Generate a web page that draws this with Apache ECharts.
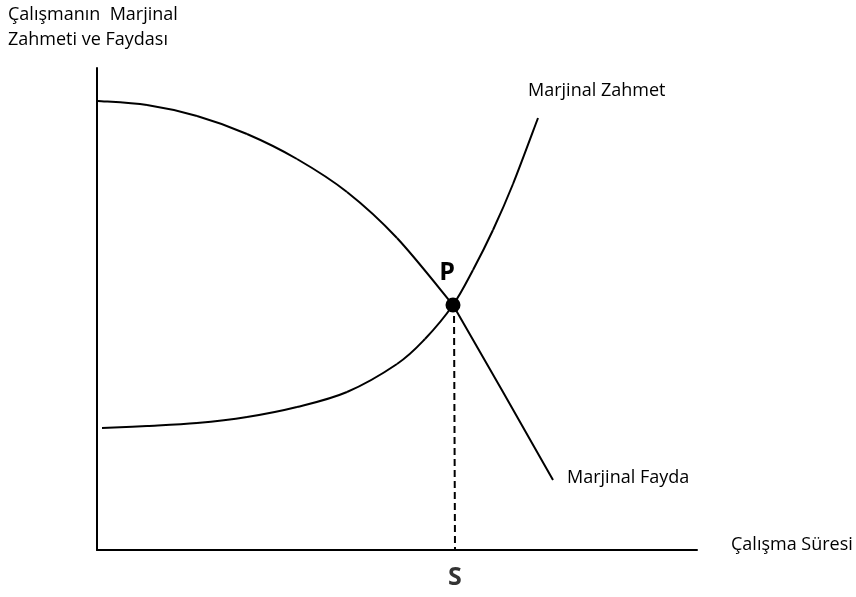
<!DOCTYPE html>
<html>
<head>
<meta charset="utf-8">
<script src="https://cdn.jsdelivr.net/npm/echarts@6/dist/echarts.min.js"></script>
<style>
html,body{margin:0;padding:0;background:#fff;}
#c{width:856px;height:597px;}
</style>
</head>
<body>
<div id="c"></div>
<script>
// Data (horizontal units: work time, vertical units: marginal effort / benefit)
const faydaUpper = [[1,449],[50,445],[100,434],[150,416],[200,391],[250,358],[300,312],[356,245]];
const faydaLower = [[356,245],[406,158],[456,70]];
const zahmetCurve = [[5,122],[50,124],[100,127],[150,133],[200,143],[250,158],[300,186],[328,211],[356,245],[376,280],[396,320],[416,366],[441,432]];
const equilibrium = [356,245];
const equilibriumDrop = [[357,245],[358,0]];
const labels = {
  yTitle: 'Çalışmanın  Marjinal\nZahmeti ve Faydası',
  xTitle: 'Çalışma Süresi',
  zahmet: 'Marjinal Zahmet',
  fayda: 'Marjinal Fayda',
  point: 'P',
  s: 'S'
};

const FONT = '"Open Sans", Lato, sans-serif';
const TXT = 18;

// Smooth curve (Catmull-Rom -> cubic Bezier) through the data points, mapped with api.coord
function smoothCurve(points) {
  return function (params, api) {
    if (params.dataIndex !== 0) return null;
    const p = points.map(d => api.coord(d));
    const path = [];
    for (let i = 0; i < p.length - 1; i++) {
      const p0 = p[Math.max(i - 1, 0)], p1 = p[i], p2 = p[i + 1], p3 = p[Math.min(i + 2, p.length - 1)];
      const c1 = [p1[0] + (p2[0] - p0[0]) / 6, p1[1] + (p2[1] - p0[1]) / 6];
      const c2 = [p2[0] - (p3[0] - p1[0]) / 6, p2[1] - (p3[1] - p1[1]) / 6];
      path.push({type: 'bezierCurve', shape: {x1: p1[0], y1: p1[1], x2: p2[0], y2: p2[1], cpx1: c1[0], cpy1: c1[1], cpx2: c2[0], cpy2: c2[1]},
        style: {stroke: '#000', lineWidth: 2, fill: null}});
    }
    return {type: 'group', children: path};
  };
}

const chart = echarts.init(document.getElementById('c'), null, {renderer:'canvas'});
chart.setOption({
  animation: false,
  backgroundColor: '#fff',
  grid: {left: 97, top: 68, width: 600, height: 482},
  xAxis: {
    type: 'value', min: 0, max: 600,
    axisLine: {show: true, lineStyle: {color: '#000', width: 2}},
    axisTick: {show: false}, axisLabel: {show: false}, splitLine: {show: false}
  },
  yAxis: {
    type: 'value', min: 0, max: 482,
    axisLine: {show: true, lineStyle: {color: '#000', width: 2}},
    axisTick: {show: false}, axisLabel: {show: false}, splitLine: {show: false}
  },
  series: [
    {
      type: 'custom', data: faydaUpper, renderItem: smoothCurve(faydaUpper), silent: true
    },
    {
      type: 'line', data: faydaLower, smooth: false, symbol: 'none',
      lineStyle: {color: '#000', width: 2},
      endLabel: {show: true, formatter: labels.fayda, color: '#000', fontFamily: FONT, fontSize: TXT, offset: [6, -2]}
    },
    {
      type: 'custom', data: zahmetCurve, renderItem: smoothCurve(zahmetCurve), silent: true
    },
    {
      type: 'line', data: [zahmetCurve[zahmetCurve.length - 1]], symbol: 'none',
      lineStyle: {width: 0},
      endLabel: {show: true, formatter: labels.zahmet, color: '#000', fontFamily: FONT, fontSize: TXT, align: 'left', offset: [-18, -27]}
    },
    {
      type: 'line', data: equilibriumDrop, symbol: 'none',
      lineStyle: {color: '#000', width: 2, type: [7, 4]}
    },
    {
      type: 'scatter', data: [equilibrium], symbolSize: 15, z: 10, itemStyle: {color: '#000', opacity: 1},
      label: {show: true, formatter: labels.point, position: 'top', distance: 12, offset: [-6, 0],
        color: '#000', fontFamily: FONT, fontSize: 25, fontWeight: 'bold'}
    },
    {
      type: 'scatter', data: [[equilibriumDrop[1][0], 0]], symbolSize: 0,
      label: {show: true, formatter: labels.s, position: 'bottom', distance: 15,
        color: '#000', fontFamily: FONT, fontSize: 25, fontWeight: 'bold'}
    }
  ],
  graphic: [
    {type: 'text', left: 8, top: 2, style: {text: labels.yTitle, fill: '#000', font: TXT + 'px ' + FONT, lineHeight: 25}},
    {type: 'text', left: 731, top: 536, style: {text: labels.xTitle, fill: '#000', font: TXT + 'px ' + FONT}}
  ]
});
</script>
</body>
</html>
